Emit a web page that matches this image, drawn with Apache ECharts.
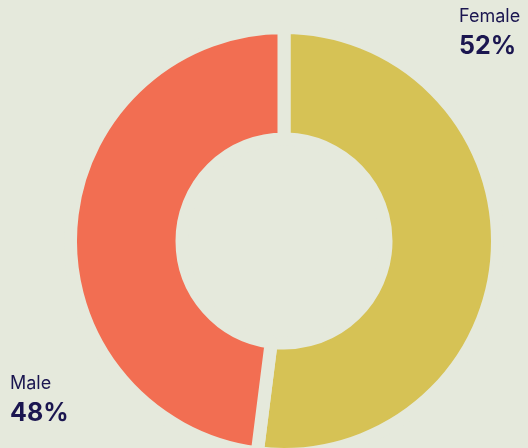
<!DOCTYPE html>
<html>
<head>
<meta charset="utf-8">
<script src="https://cdn.jsdelivr.net/npm/echarts@6/dist/echarts.min.js"></script>
<style>
  html, body { margin: 0; padding: 0; background: #e5e9dc; }
  #main { width: 528px; height: 448px; }
</style>
</head>
<body>
<div id="main"></div>
<script>
var categories = ['Female', 'Male'];
var shares = [52, 48];
var colors = ['#d6c255', '#f26e52'];

var bg = '#e5e9dc';
var ink = '#1b1650';

var chart = echarts.init(document.getElementById('main'));

// corner labels, one per category
var labelPos = [
  { left: 459, top: 8 },
  { left: 10, top: 375 }
];
var graphics = [];
categories.forEach(function (name, i) {
  graphics.push({
    type: 'text', left: labelPos[i].left, top: labelPos[i].top,
    style: { text: name, fill: ink, font: '400 18px Inter, "Noto Sans", sans-serif' }
  });
  graphics.push({
    type: 'text', left: labelPos[i].left, top: labelPos[i].top + 26,
    style: { text: shares[i] + '%', fill: ink, font: '700 25px Inter, "Noto Sans", sans-serif' }
  });
});

var option = {
  backgroundColor: bg,
  animation: false,
  graphic: graphics,
  series: [{
    type: 'pie',
    center: [284, 241],
    radius: [102, 213.5],
    startAngle: 90,
    clockwise: true,
    label: { show: false },
    labelLine: { show: false },
    emphasis: { disabled: true },
    itemStyle: { borderColor: bg, borderWidth: 13 },
    data: categories.map(function (name, i) {
      return { name: name, value: shares[i], itemStyle: { color: colors[i] } };
    })
  }]
};
chart.setOption(option);
</script>
</body>
</html>
